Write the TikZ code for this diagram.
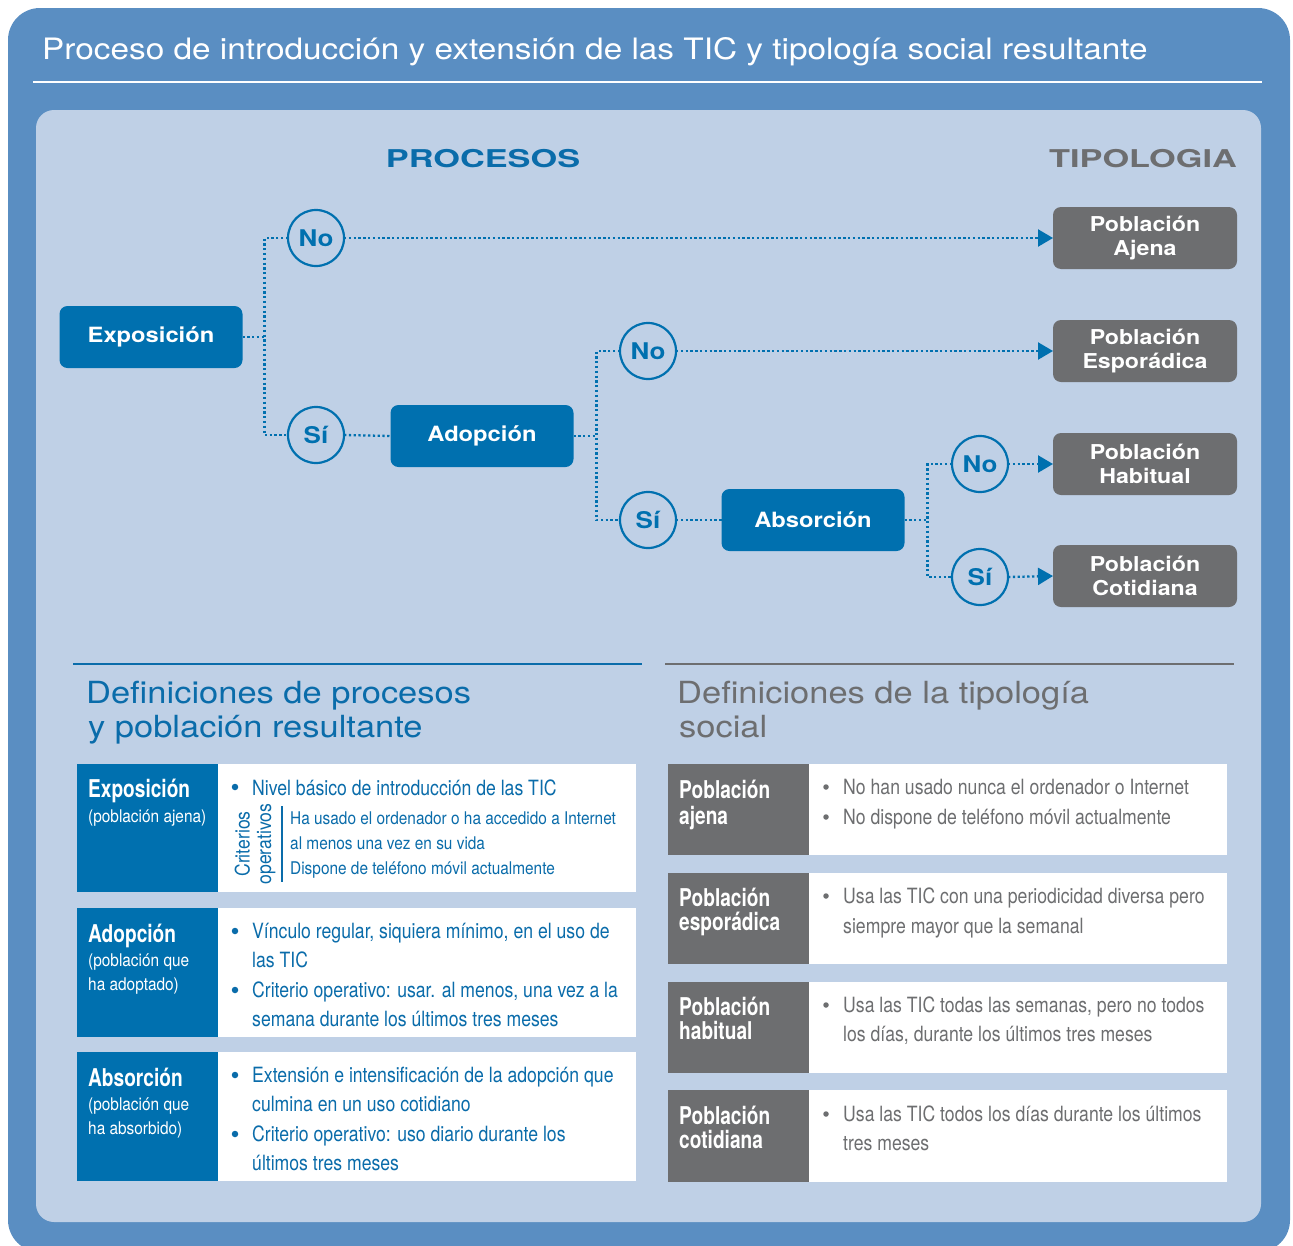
\documentclass[tikz,border=0pt]{standalone}
\usepackage{fontspec}
\setmainfont{TeX Gyre Heros}
\newfontfamily\wide[FakeStretch=1.13]{TeX Gyre Heros}
\newfontfamily\hwide[FakeStretch=1.13]{TeX Gyre Heros}
\newfontfamily\xwide[FakeStretch=1.40]{TeX Gyre Heros}
\newfontfamily\cond[FakeStretch=0.88]{TeX Gyre Heros}
\newfontfamily\condt[FakeStretch=0.84]{TeX Gyre Heros}
\newfontfamily\bcond[FakeStretch=0.78]{TeX Gyre Heros}
\usetikzlibrary{arrows.meta}
\definecolor{outerblue}{HTML}{5A8EC2}
\definecolor{panel}{HTML}{BFD0E6}
\definecolor{pblue}{HTML}{0070AF}
\definecolor{tblue}{HTML}{0A6CAA}
\definecolor{pgray}{HTML}{6D6E70}
\begin{document}
\begin{tikzpicture}[x=1pt,y=-1pt,
  procbox/.style={fill=pblue, rounded corners=8pt, minimum width=183pt, minimum height=62pt, text=white, font=\wide\bfseries\fontsize{21}{24}\selectfont, inner sep=0pt, outer sep=0pt},
  typebox/.style={fill=pgray, rounded corners=8pt, minimum width=184pt, minimum height=62pt, text=white, font=\wide\bfseries\fontsize{20.5}{24}\selectfont, align=center, inner sep=0pt, outer sep=0pt},
  choice/.style={circle, draw=pblue, line width=2.2pt, minimum size=56pt, inner sep=0pt, outer sep=0pt, text=pblue, font=\wide\bfseries\fontsize{23}{26}\selectfont},
  dotline/.style={pblue, line width=2.3pt, dash pattern=on 2.3pt off 2.5pt},
  tip/.style={-{Triangle[length=15pt,width=17pt]}},
  cellfill/.style={anchor=north west, inner sep=0pt, outer sep=0pt, minimum width=#1},
  ltxt/.style={anchor=base west, inner sep=0pt, text=tblue, font=\condt\fontsize{21}{24}\selectfont},
  stxt/.style={anchor=base west, inner sep=0pt, text=tblue, font=\cond\fontsize{17.5}{20}\selectfont},
  gtxt/.style={anchor=base west, inner sep=0pt, text=pgray, font=\condt\fontsize{21}{24}\selectfont},
  ctitle/.style={anchor=base west, inner sep=0pt, text=white, font=\bcond\bfseries\fontsize{24.5}{27}\selectfont},
  csub/.style={anchor=base west, inner sep=0pt, text=white, font=\cond\fontsize{17.5}{20}\selectfont},
  bdot/.style={circle, fill=tblue, minimum size=6.5pt, inner sep=0pt},
  gdot/.style={circle, fill=pgray, minimum size=5.5pt, inner sep=0pt},
  heading/.style={anchor=base west, inner sep=0pt, font=\hwide\fontsize{30.5}{34}\selectfont}
]
\useasboundingbox (0,0) rectangle (1293,1245);
% frames
\fill[outerblue, rounded corners=32pt] (8,8) rectangle (1290,1252);
\node[anchor=base west, inner sep=0pt, text=white, font=\wide\fontsize{29.5}{32}\selectfont] (title) at (42,59) {Proceso de introducción y extensión de las TIC y tipología social resultante};
\draw[white, line width=1.2pt] (33,82) -- (1262,82);
\fill[panel, rounded corners=18pt] (36,110) rectangle (1261,1222);

% headers
\node[anchor=base, inner sep=0pt, text=tblue, font=\xwide\bfseries\fontsize{24.5}{28}\selectfont] (hproc) at (483,167) {PROCESOS};
\node[anchor=base east, inner sep=0pt, text=pgray, font=\xwide\bfseries\fontsize{24.5}{28}\selectfont] (htip) at (1237,167) {TIPOLOGIA};

% process nodes
\node[procbox] (expo) at (151,337) {Exposición};
\node[procbox] (adop) at (482,436) {Adopción};
\node[procbox] (abso) at (813,520) {Absorción};
\node[choice] (no1) at (316,238) {No};
\node[choice] (si1) at (316,435) {Sí};
\node[choice] (no2) at (648,351) {No};
\node[choice] (si2) at (648,520) {Sí};
\node[choice] (no3) at (980,464) {No};
\node[choice] (si3) at (980,577) {Sí};
\node[typebox] (ajena) at (1145,238) {Población\\[-0.5pt]Ajena};
\node[typebox] (espo) at (1145,351) {Población\\[-0.5pt]Esporádica};
\node[typebox] (habi) at (1145,464) {Población\\[-0.5pt]Habitual};
\node[typebox] (coti) at (1145,576) {Población\\[-0.5pt]Cotidiana};

% connectors
\draw[dotline] (expo.east) -- ++(22,0) coordinate (j1);
\draw[dotline] (no1.west) -| (j1) |- (si1.west);
\draw[dotline] (si1.east) -- (adop.west);
\draw[dotline, tip] (no1.east) -- (ajena.west);
\draw[dotline] (adop.east) -- ++(23,0) coordinate (j2);
\draw[dotline] (no2.west) -| (j2) |- (si2.west);
\draw[dotline] (si2.east) -- (abso.west);
\draw[dotline, tip] (no2.east) -- (espo.west);
\draw[dotline] (abso.east) -- ++(23,0) coordinate (j3);
\draw[dotline] (no3.west) -| (j3) |- (si3.west);
\draw[dotline, tip] (no3.east) -- (habi.west);
\draw[dotline, tip] (si3.east) -- (coti.west);

% bottom headings
\draw[tblue, line width=1.5pt] (73,664) -- (642,664);
\draw[pgray, line width=1.5pt] (665,664) -- (1234,664);
\node[heading, text=tblue] (dp1) at (86,703) {Definiciones de procesos};
\node[heading, text=tblue] (dp2) at (88,737) {y población resultante};
\node[heading, text=pgray] (dt1) at (677,703) {Definiciones de la tipología};
\node[heading, text=pgray] (dt2) at (679,737) {social};

% left table cells
\node[cellfill=141pt, minimum height=128pt, fill=pblue] (l1a) at (77,764) {};
\node[cellfill=418pt, minimum height=128pt, fill=white] (l1b) at (218,764) {};
\node[cellfill=141pt, minimum height=129pt, fill=pblue] (l2a) at (77,908) {};
\node[cellfill=418pt, minimum height=129pt, fill=white] (l2b) at (218,908) {};
\node[cellfill=141pt, minimum height=129pt, fill=pblue] (l3a) at (77,1052) {};
\node[cellfill=418pt, minimum height=129pt, fill=white] (l3b) at (218,1052) {};

% right table cells
\node[cellfill=141pt, minimum height=91pt, fill=pgray] (r1a) at (668,764) {};
\node[cellfill=418pt, minimum height=91pt, fill=white] (r1b) at (809,764) {};
\node[cellfill=141pt, minimum height=91pt, fill=pgray] (r2a) at (668,873) {};
\node[cellfill=418pt, minimum height=91pt, fill=white] (r2b) at (809,873) {};
\node[cellfill=141pt, minimum height=91pt, fill=pgray] (r3a) at (668,982) {};
\node[cellfill=418pt, minimum height=91pt, fill=white] (r3b) at (809,982) {};
\node[cellfill=141pt, minimum height=92pt, fill=pgray] (r4a) at (668,1090) {};
\node[cellfill=418pt, minimum height=92pt, fill=white] (r4b) at (809,1090) {};

% left row 1
\node[ctitle] (t1) at (88,797) {Exposición};
\node[csub] (s1) at (88,822) {(población ajena)};
\node[bdot] (b11) at (235,787) {};
\node[ltxt] (x11) at (252,795) {Nivel básico de introducción de las TIC};
\node[rotate=90, align=center, inner sep=0pt, text=tblue, font=\cond\fontsize{20}{21.5}\selectfont] (crit) at (255,844) {Criterios\\operativos};
\draw[tblue, line width=1.2pt] (282,806) -- (282,882);
\node[stxt] (x12) at (290,824) {Ha usado el ordenador o ha accedido a Internet};
\node[stxt] (x13) at (290,849) {al menos una vez en su vida};
\node[stxt] (x14) at (290,874) {Dispone de teléfono móvil actualmente};

% left row 2
\node[ctitle] (t2) at (88,942) {Adopción};
\node[csub] (s21) at (88,966) {(población que};
\node[csub] (s22) at (88,990) {ha adoptado)};
\node[bdot] (b21) at (235,931) {};
\node[ltxt] (x21) at (252,938) {Vínculo regular, siquiera mínimo, en el uso de};
\node[ltxt] (x22) at (252,967) {las TIC};
\node[bdot] (b22) at (235,990) {};
\node[ltxt] (x23) at (252,997) {Criterio operativo: usar. al menos, una vez a la};
\node[ltxt] (x24) at (252,1026) {semana durante los últimos tres meses};

% left row 3
\node[ctitle] (t3) at (88,1086) {Absorción};
\node[csub] (s31) at (88,1110) {(población que};
\node[csub] (s32) at (88,1134) {ha absorbido)};
\node[bdot] (b31) at (235,1075) {};
\node[ltxt] (x31) at (252,1082) {Extensión e intensificación de la adopción que};
\node[ltxt] (x32) at (252,1111) {culmina en un uso cotidiano};
\node[bdot] (b32) at (235,1134) {};
\node[ltxt] (x33) at (252,1141) {Criterio operativo: uso diario durante los};
\node[ltxt] (x34) at (252,1170) {últimos tres meses};

% right row 1
\node[ctitle] (u11) at (679,798) {Población};
\node[ctitle] (u12) at (679,824) {ajena};
\node[gdot] (g11) at (826,787) {};
\node[gtxt] (y11) at (843,794) {No han usado nunca el ordenador o Internet};
\node[gdot] (g12) at (826,817) {};
\node[gtxt] (y12) at (843,824) {No dispone de teléfono móvil actualmente};

% right row 2
\node[ctitle] (u21) at (679,906) {Población};
\node[ctitle] (u22) at (679,930) {esporádica};
\node[gdot] (g21) at (826,896) {};
\node[gtxt] (y21) at (843,903) {Usa las TIC con una periodicidad diversa pero};
\node[gtxt] (y22) at (843,933) {siempre mayor que la semanal};

% right row 3
\node[ctitle] (u31) at (679,1015) {Población};
\node[ctitle] (u32) at (679,1039) {habitual};
\node[gdot] (g31) at (826,1005) {};
\node[gtxt] (y31) at (843,1012) {Usa las TIC todas las semanas, pero no todos};
\node[gtxt] (y32) at (843,1041) {los días, durante los últimos tres meses};

% right row 4
\node[ctitle] (u41) at (679,1124) {Población};
\node[ctitle] (u42) at (679,1148) {cotidiana};
\node[gdot] (g41) at (826,1114) {};
\node[gtxt] (y41) at (843,1121) {Usa las TIC todos los días durante los últimos};
\node[gtxt] (y42) at (843,1150) {tres meses};
\end{tikzpicture}
\end{document}
